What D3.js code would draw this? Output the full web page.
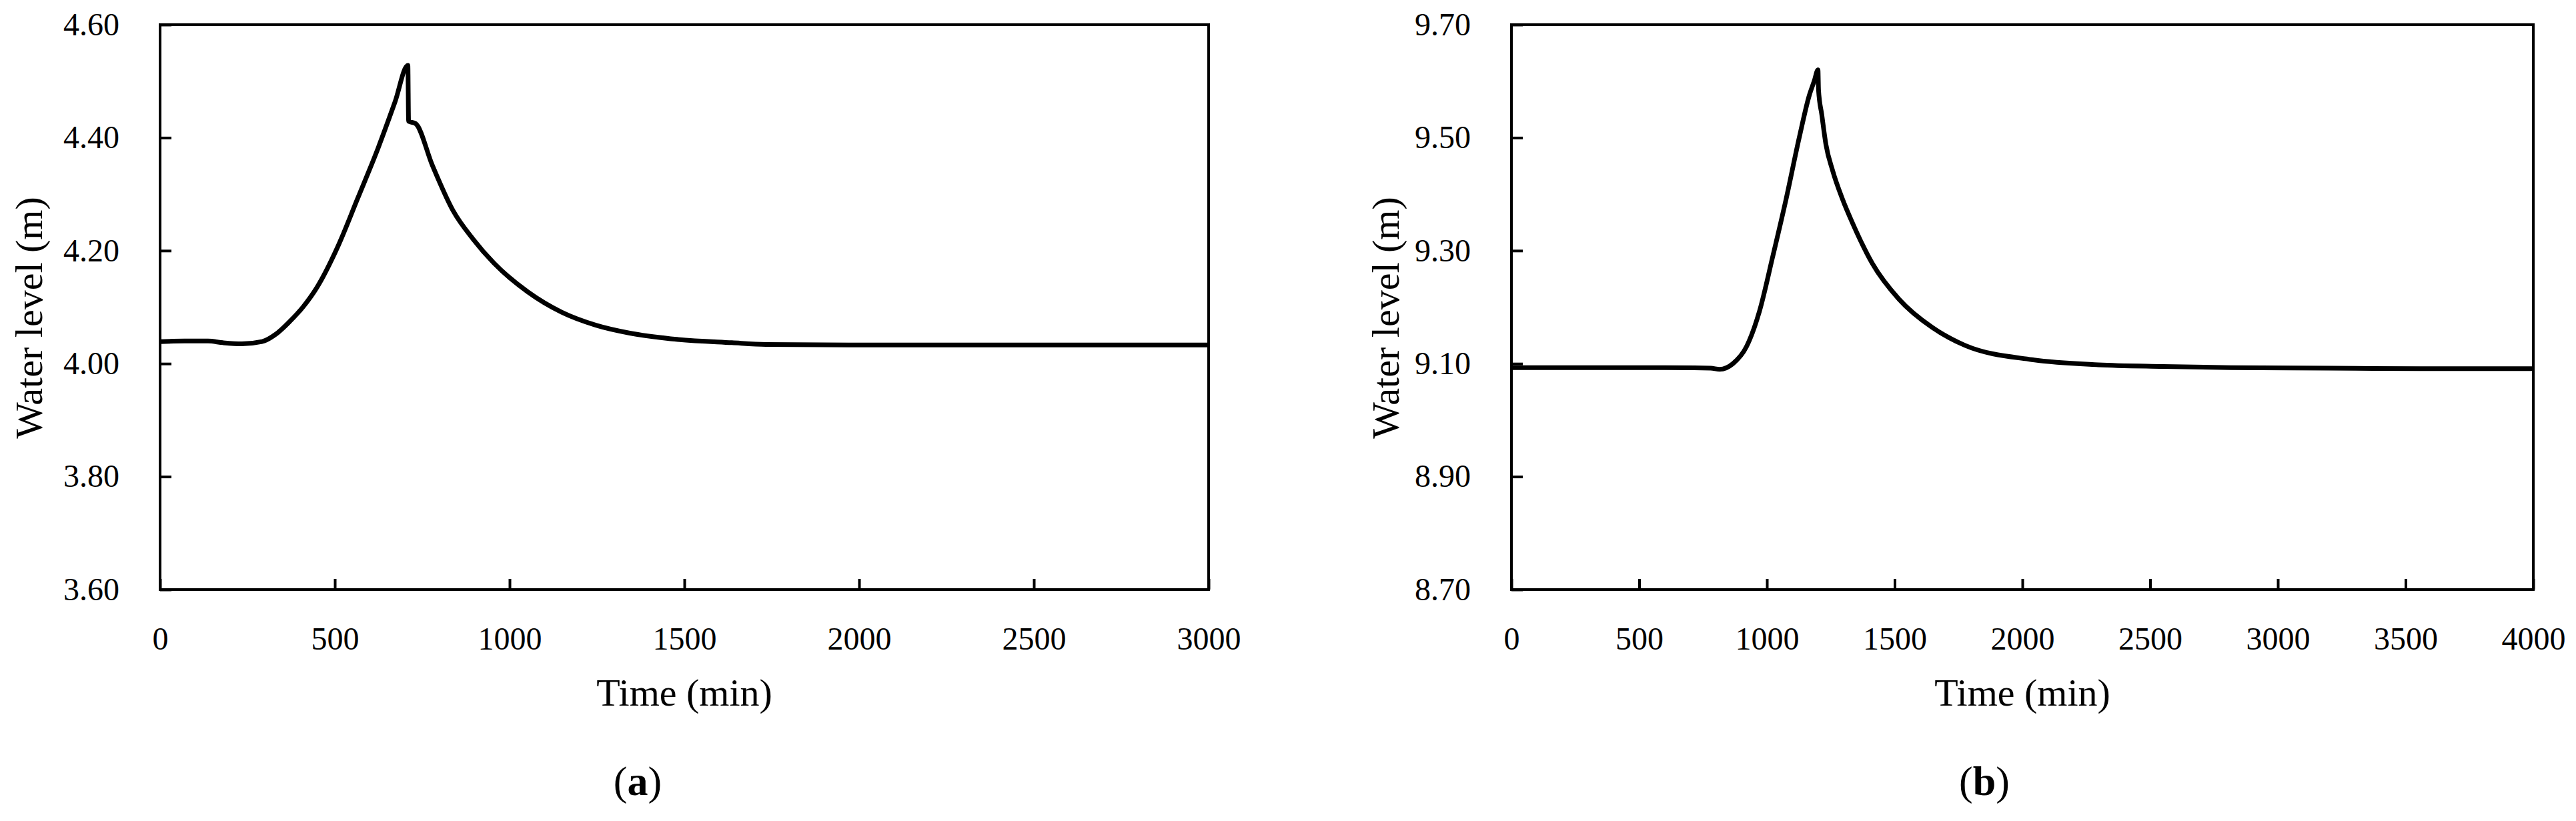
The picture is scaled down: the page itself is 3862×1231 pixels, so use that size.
<!DOCTYPE html>
<html>
<head>
<meta charset="utf-8">
<script src="https://cdn.jsdelivr.net/npm/d3@7"></script>
<style>
  html, body { margin: 0; padding: 0; background: #fff; }
  svg { display: block; font-family: "Liberation Serif", "Times New Roman", serif; }
</style>
</head>
<body>
<div id="chart"></div>
<script>
// panel (a): water level over time
const timeA = [0, 70, 137, 180, 234, 292, 331, 370, 410, 448, 507, 565, 624, 672, 709, 711, 731, 779, 838, 896, 955,
  1052, 1149, 1247, 1344, 1461, 1636, 1733, 2000, 2500, 3000];
const levelA = [4.039, 4.040, 4.040, 4.037, 4.035, 4.039, 4.052, 4.074, 4.101, 4.134, 4.205, 4.292, 4.382, 4.463, 4.528,
  4.429, 4.425, 4.351, 4.271, 4.220, 4.178, 4.127, 4.091, 4.068, 4.054, 4.044, 4.037, 4.034, 4.033, 4.033, 4.033];

// panel (b)
const timeB = [0, 200, 400, 600, 780, 815, 867, 920, 971, 1023, 1075, 1127, 1166, 1185, 1200, 1202, 1215,
  1231, 1257, 1296, 1335, 1413, 1517, 1647, 1777, 2037, 2296, 2550, 2816, 3200, 3600, 4000];
const levelB = [9.093, 9.093, 9.093, 9.093, 9.092, 9.090, 9.100, 9.130, 9.193, 9.290, 9.391, 9.501, 9.575, 9.600,
  9.620, 9.585, 9.540, 9.488, 9.442, 9.391, 9.349, 9.277, 9.214, 9.164, 9.132, 9.107, 9.098, 9.095,
  9.093, 9.092, 9.091, 9.091];

// axis ticks
const xTicksA = [0, 500, 1000, 1500, 2000, 2500, 3000];
const yTicksA = [3.6, 3.8, 4.0, 4.2, 4.4, 4.6];
const xTicksB = [0, 500, 1000, 1500, 2000, 2500, 3000, 3500, 4000];
const yTicksB = [8.7, 8.9, 9.1, 9.3, 9.5, 9.7];

const width = 3862;
const height = 1231;

const svg = d3.select("#chart").append("svg")
    .attr("viewBox", [0, 0, width, height])
    .attr("width", width)
    .attr("height", height);

svg.append("rect").attr("width", width).attr("height", height).attr("fill", "#fff");

function drawPanel(p) {
  const x = d3.scaleLinear()
      .domain([p.xTicks[0], p.xTicks[p.xTicks.length - 1]])
      .range([p.left, p.right]);
  const y = d3.scaleLinear()
      .domain([p.yTicks[0], p.yTicks[p.yTicks.length - 1]])
      .range([p.bottom, p.top]);

  const g = svg.append("g");

  // x axis, ticks pointing inward
  g.append("g")
      .attr("transform", `translate(0,${p.bottom})`)
      .call(d3.axisBottom(x).tickValues(p.xTicks).tickSizeInner(-16).tickSizeOuter(0).tickPadding(56)
        .tickFormat(d3.format("d")))
      .call(g => g.select(".domain").remove())
      .call(g => g.selectAll("line").attr("stroke", "#000").attr("stroke-width", 4))
      .call(g => g.selectAll("text").attr("font-size", 48).attr("fill", "#000")
        .attr("font-family", "Liberation Serif"));

  // y axis
  g.append("g")
      .attr("transform", `translate(${p.left},0)`)
      .call(d3.axisLeft(y).tickValues(p.yTicks).tickSizeInner(-17).tickSizeOuter(0).tickPadding(61)
        .tickFormat(d3.format(".2f")))
      .call(g => g.select(".domain").remove())
      .call(g => g.selectAll("line").attr("stroke", "#000").attr("stroke-width", 4))
      .call(g => g.selectAll("text").attr("font-size", 48).attr("fill", "#000")
        .attr("font-family", "Liberation Serif"));

  // plot frame
  g.append("rect")
      .attr("x", p.left).attr("y", p.top)
      .attr("width", p.right - p.left).attr("height", p.bottom - p.top)
      .attr("fill", "none").attr("stroke", "#000").attr("stroke-width", 4);

  const line = d3.line()
      .x((d, i) => x(p.time[i]))
      .y(d => y(d))
      .curve(d3.curveMonotoneX);

  g.append("path")
      .datum(p.level)
      .attr("fill", "none")
      .attr("stroke", "#000")
      .attr("stroke-width", 7)
      .attr("stroke-linejoin", "round")
      .attr("d", line);

  // axis titles
  g.append("text")
      .attr("x", (p.left + p.right) / 2)
      .attr("y", 1058)
      .attr("text-anchor", "middle")
      .attr("font-size", 58)
      .text("Time (min)");

  g.append("text")
      .attr("transform", `translate(${p.left - p.titleOffset},${(p.top + p.bottom) / 2 + 16}) rotate(-90)`)
      .attr("text-anchor", "middle")
      .attr("font-size", 58)
      .text("Water level (m)");

  // panel label
  const lab = g.append("text")
      .attr("x", p.labelX)
      .attr("y", 1192)
      .attr("text-anchor", "middle")
      .attr("font-size", 62);
  lab.append("tspan").text("(");
  lab.append("tspan").attr("font-weight", "bold").text(p.label);
  lab.append("tspan").text(")");
}

drawPanel({
  time: timeA, level: levelA, xTicks: xTicksA, yTicks: yTicksA,
  left: 240, right: 1812, top: 37, bottom: 884,
  titleOffset: 177, label: "a", labelX: 956
});

drawPanel({
  time: timeB, level: levelB, xTicks: xTicksB, yTicks: yTicksB,
  left: 2266, right: 3798, top: 37, bottom: 884,
  titleOffset: 169, label: "b", labelX: 2975
});
</script>
</body>
</html>
